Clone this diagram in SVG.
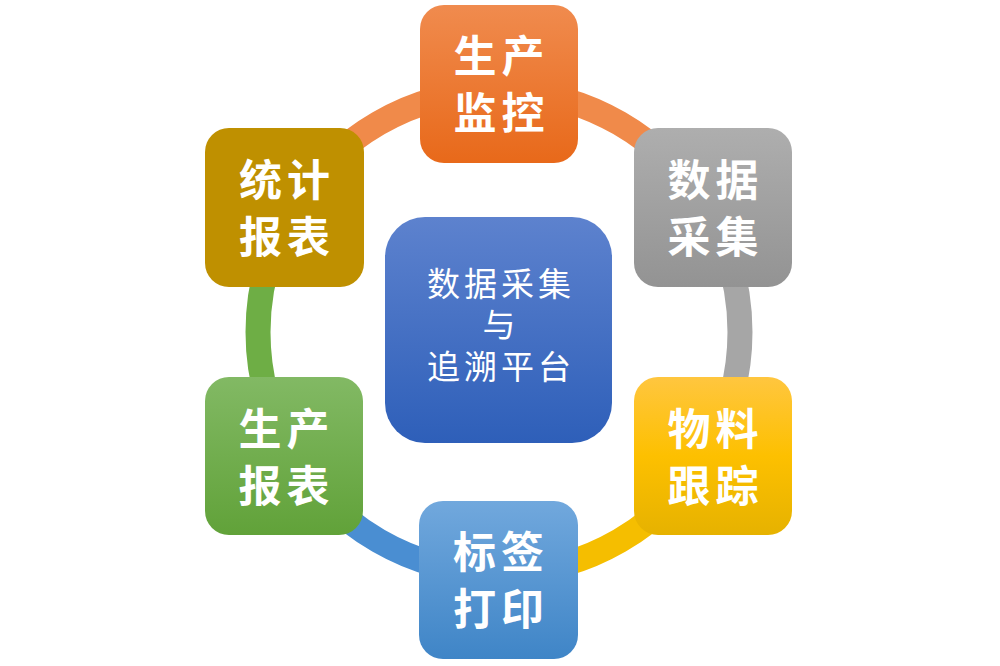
<svg xmlns="http://www.w3.org/2000/svg" width="1000" height="666" viewBox="0 0 1000 666">
  <defs>
    <linearGradient id="gOrange" x1="0" y1="0" x2="0" y2="1"><stop offset="0" stop-color="#F08B4E"/><stop offset="1" stop-color="#E8691A"/></linearGradient>
    <linearGradient id="gGray" x1="0" y1="0" x2="0" y2="1"><stop offset="0" stop-color="#AEAEAE"/><stop offset="1" stop-color="#939393"/></linearGradient>
    <linearGradient id="gYellow" x1="0" y1="0" x2="0" y2="1"><stop offset="0" stop-color="#FFC63F"/><stop offset="0.5" stop-color="#FDC000"/><stop offset="1" stop-color="#E6B200"/></linearGradient>
    <linearGradient id="gBlue" x1="0" y1="0" x2="0" y2="1"><stop offset="0" stop-color="#71A8DD"/><stop offset="1" stop-color="#3F85C7"/></linearGradient>
    <linearGradient id="gGreen" x1="0" y1="0" x2="0" y2="1"><stop offset="0" stop-color="#82B964"/><stop offset="1" stop-color="#61A239"/></linearGradient>
    <linearGradient id="gCenter" x1="0" y1="0" x2="0" y2="1"><stop offset="0" stop-color="#5D82CE"/><stop offset="1" stop-color="#2E5FB9"/></linearGradient>
  </defs>
  <style>
    .arc { fill: none; stroke-width: 25; }
    .node { stroke: none; }
    .lbl { fill: #FFFFFF; font-family: "Noto Sans CJK SC", "Noto Sans", sans-serif; font-weight: bold; font-size: 43px; letter-spacing: 5px; text-anchor: middle; dominant-baseline: central; }
    .clbl { fill: #FFFFFF; font-family: "Noto Sans CJK SC", "Noto Sans", sans-serif; font-size: 33px; letter-spacing: 4px; text-anchor: middle; dominant-baseline: central; }
  </style>
  <g id="connectors">
    <path class="arc" stroke="#F08A4A" d="M 290.3 211.5 A 241 241 0 0 1 499 91"/>
    <path class="arc" stroke="#F08A4A" d="M 499 91 A 241 241 0 0 1 707.7 211.5"/>
    <path class="arc" stroke="#A6A6A6" d="M 707.7 211.5 A 241 241 0 0 1 707.7 452.5"/>
    <path class="arc" stroke="#F5BE00" d="M 707.7 452.5 A 241 241 0 0 1 499 573"/>
    <path class="arc" stroke="#4A8ED2" d="M 499 573 A 241 241 0 0 1 290.3 452.5"/>
    <path class="arc" stroke="#6EAE45" d="M 290.3 452.5 A 241 241 0 0 1 290.3 211.5"/>
  </g>
  <g id="node-center">
    <rect class="node" x="385" y="217" width="227" height="226" rx="40" fill="url(#gCenter)"/>
    <text class="clbl" x="501" y="282">数据采集</text>
    <text class="clbl" x="501" y="323">与</text>
    <text class="clbl" x="501" y="365">追溯平台</text>
  </g>
  <g id="node-top">
    <rect class="node" x="420" y="5" width="158" height="158" rx="24" fill="url(#gOrange)"/>
    <text class="lbl" x="501.5" y="53">生产</text>
    <text class="lbl" x="501.5" y="110">监控</text>
  </g>
  <g id="node-right-top">
    <rect class="node" x="634" y="128" width="158" height="159" rx="24" fill="url(#gGray)"/>
    <text class="lbl" x="715.5" y="177">数据</text>
    <text class="lbl" x="715.5" y="234">采集</text>
  </g>
  <g id="node-right-bottom">
    <rect class="node" x="634" y="377" width="158" height="158" rx="24" fill="url(#gYellow)"/>
    <text class="lbl" x="715.5" y="426">物料</text>
    <text class="lbl" x="715.5" y="483">跟踪</text>
  </g>
  <g id="node-bottom">
    <rect class="node" x="419" y="501" width="159" height="158" rx="24" fill="url(#gBlue)"/>
    <text class="lbl" x="501" y="549">标签</text>
    <text class="lbl" x="501" y="606">打印</text>
  </g>
  <g id="node-left-bottom">
    <rect class="node" x="205" y="377" width="158" height="158" rx="24" fill="url(#gGreen)"/>
    <text class="lbl" x="286.5" y="426">生产</text>
    <text class="lbl" x="286.5" y="483">报表</text>
  </g>
  <g id="node-left-top">
    <rect class="node" x="205" y="128" width="159" height="159" rx="24" fill="#BF9000"/>
    <text class="lbl" x="287" y="177">统计</text>
    <text class="lbl" x="287" y="234">报表</text>
  </g>
</svg>
